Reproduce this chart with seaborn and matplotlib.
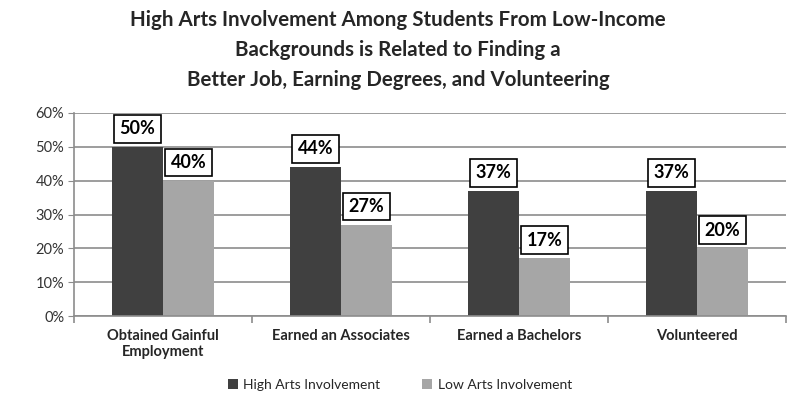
import matplotlib
matplotlib.use("Agg")
import matplotlib.pyplot as plt
import seaborn as sns
import pandas as pd
from matplotlib.patches import Patch
from matplotlib.ticker import FuncFormatter, FixedLocator

categories = ["Obtained Gainful\nEmployment", "Earned an Associates", "Earned a Bachelors", "Volunteered"]
series_names = ["High Arts Involvement", "Low Arts Involvement"]
high_values = [50, 44, 37, 37]
low_values = [40, 27, 17, 20]
colors = ["#404040", "#a6a6a6"]
title = "High Arts Involvement Among Students From Low-Income\nBackgrounds is Related to Finding a\nBetter Job, Earning Degrees, and Volunteering"

sns.set_style("white")
plt.rcParams['font.family'] = ['Lato', 'DejaVu Sans']

df = pd.DataFrame({
    "cat": categories * 2,
    "series": [series_names[0]] * 4 + [series_names[1]] * 4,
    "val": high_values + low_values,
})

fig = plt.figure(figsize=(7.95, 4.04), dpi=100)
ax = fig.add_axes([74/795, 1 - 316/404, 712/795, 203/404])

sns.barplot(data=df, x="cat", y="val", hue="series", palette=colors, width=0.573,
            ax=ax, legend=False, saturation=1, edgecolor="none")

ax.set_ylim(0, 60)
ax.set_xlim(-0.5, 3.5)
ax.yaxis.set_major_locator(FixedLocator(range(0, 61, 10)))
ax.yaxis.set_major_formatter(FuncFormatter(lambda v, p: f"{int(v)}%"))
ax.grid(axis="y", color="#8c8c8c", linewidth=1.2)
ax.set_axisbelow(True)
for s in ["top", "right"]:
    ax.spines[s].set_visible(False)
for s in ["left", "bottom"]:
    ax.spines[s].set_color("#8c8c8c")
    ax.spines[s].set_linewidth(1.2)
ax.tick_params(axis="y", left=True, length=4, color="#8c8c8c", labelsize=10.5, labelcolor="#333333", pad=3)
ax.tick_params(axis="x", bottom=False, labelsize=10.5, pad=6)
for lbl in ax.get_xticklabels():
    lbl.set_fontweight("bold")
ax.set_xticks([-0.5, 0.5, 1.5, 2.5, 3.5], minor=True)
ax.tick_params(axis="x", which="minor", bottom=True, length=5, color="#8c8c8c", width=1.2)
ax.set_xlabel("")
ax.set_ylabel("")

for cont in ax.containers:
    for bar in cont:
        h = bar.get_height()
        ax.annotate(f"{int(round(h))}%", (bar.get_x() + bar.get_width() / 2, h),
                    xytext=(0, 7), textcoords="offset points", ha="center", va="bottom",
                    fontsize=13, fontweight="bold", color="black",
                    bbox=dict(boxstyle="square,pad=0.3", fc="white", ec="black", lw=1.2))

fig.text(398/795, 1 - 10/404, title, ha="center", va="top", fontsize=14.8,
         fontweight="bold", linespacing=1.62)

handles = [Patch(facecolor=c, edgecolor="none") for c in colors]
fig.legend(handles, series_names, loc="center", bbox_to_anchor=(400/795, 1 - 385/404),
           ncol=2, frameon=False, fontsize=10, handlelength=0.7, handleheight=0.7,
           handletextpad=0.4, columnspacing=3)

fig.savefig("out.png", dpi=100, facecolor="white")
